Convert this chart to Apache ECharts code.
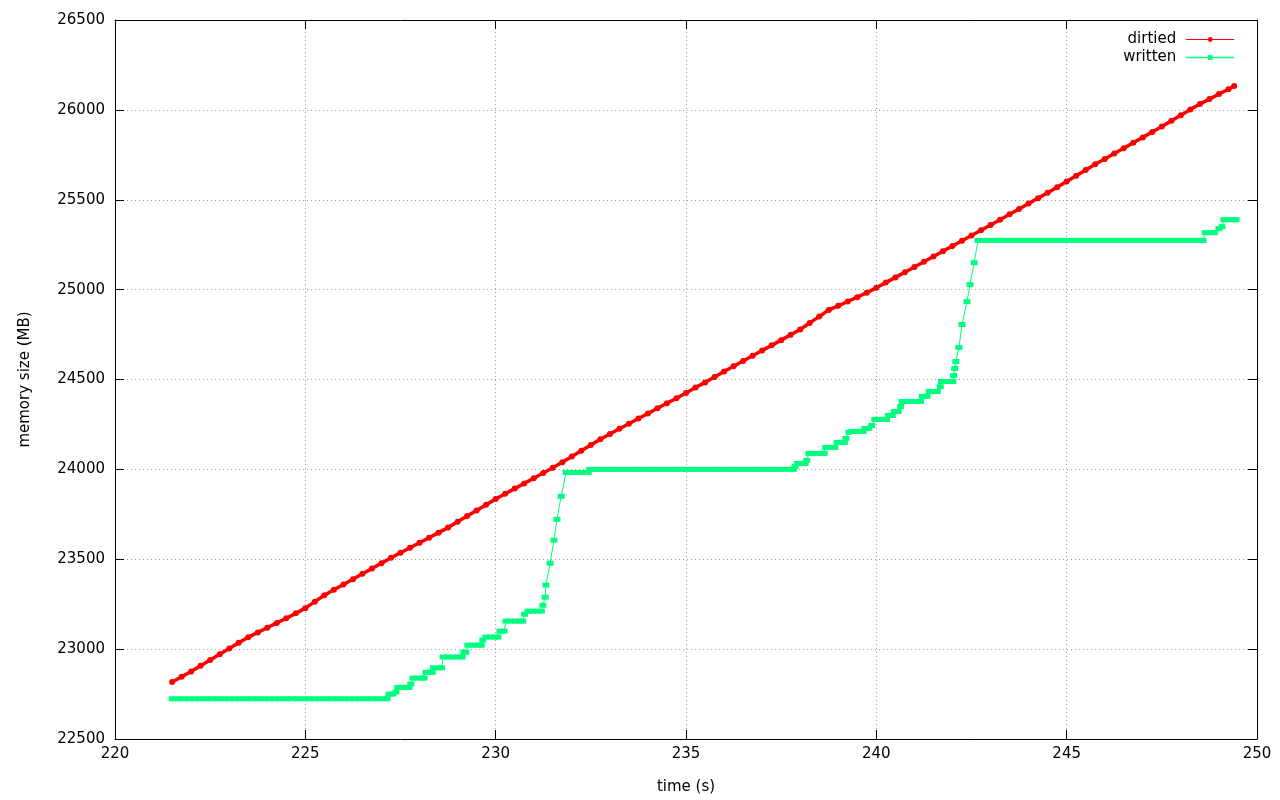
<!DOCTYPE html>
<html>
<head>
<meta charset="utf-8">
<script src="https://cdn.jsdelivr.net/npm/echarts@6/dist/echarts.min.js"></script>
<style>
html,body{margin:0;padding:0;background:#fff;}
#chart{width:1280px;height:800px;}
</style>
</head>
<body>
<div id="chart"></div>
<script>
// x-axis tick labels and y-axis tick labels
const xTicks = [220, 225, 230, 235, 240, 245, 250];
const yTicks = [22500, 23000, 23500, 24000, 24500, 25000, 25500, 26000, 26500];

// dirtied memory: [time (s), size (MB)]
const dirtied = [
[221.50,22817],[221.75,22846],[222.00,22876],[222.25,22908],[222.50,22940],[222.75,22971],
[223.00,23003],[223.25,23035],[223.50,23066],[223.75,23093],[224.00,23119],[224.25,23146],
[224.50,23172],[224.75,23199],[225.00,23228],[225.25,23264],[225.50,23300],[225.75,23330],
[226.00,23360],[226.25,23389],[226.50,23419],[226.75,23448],[227.00,23478],[227.25,23508],
[227.50,23536],[227.75,23564],[228.00,23592],[228.25,23620],[228.50,23648],[228.75,23676],
[229.00,23708],[229.25,23740],[229.50,23771],[229.75,23803],[230.00,23835],[230.25,23864],
[230.50,23893],[230.75,23922],[231.00,23951],[231.25,23980],[231.50,24009],[231.75,24040],
[232.00,24072],[232.25,24104],[232.50,24136],[232.75,24168],[233.00,24197],[233.25,24226],
[233.50,24254],[233.75,24283],[234.00,24311],[234.25,24340],[234.50,24368],[234.75,24396],
[235.00,24425],[235.25,24455],[235.50,24484],[235.75,24514],[236.00,24544],[236.25,24574],
[236.50,24603],[236.75,24632],[237.00,24661],[237.25,24690],[237.50,24719],[237.75,24749],
[238.00,24778],[238.25,24815],[238.50,24850],[238.75,24887],[239.00,24910],[239.25,24934],
[239.50,24958],[239.75,24983],[240.00,25010],[240.25,25039],[240.50,25068],[240.75,25097],
[241.00,25126],[241.25,25155],[241.50,25184],[241.75,25214],[242.00,25243],[242.25,25272],
[242.50,25301],[242.75,25330],[243.00,25360],[243.25,25389],[243.50,25419],[243.75,25449],
[244.00,25479],[244.25,25509],[244.50,25539],[244.75,25569],[245.00,25601],[245.25,25633],
[245.50,25665],[245.75,25697],[246.00,25727],[246.25,25757],[246.50,25787],[246.75,25817],
[247.00,25847],[247.25,25877],[247.50,25907],[247.75,25939],[248.00,25970],[248.25,26002],
[248.50,26033],[248.75,26060],[249.00,26088],[249.25,26115],[249.40,26133]
];

// written memory: [time (s), size (MB)]
const written = [
[221.50,22724],[221.65,22724],[221.80,22724],[221.95,22724],[222.10,22724],[222.25,22724],
[222.40,22724],[222.55,22724],[222.70,22724],[222.85,22724],[223.00,22724],[223.15,22724],
[223.30,22724],[223.45,22724],[223.60,22724],[223.75,22724],[223.90,22724],[224.05,22724],
[224.20,22724],[224.35,22724],[224.50,22724],[224.65,22724],[224.80,22724],[224.95,22724],
[225.10,22724],[225.25,22724],[225.40,22724],[225.55,22724],[225.70,22724],[225.85,22724],
[226.00,22724],[226.15,22724],[226.30,22724],[226.45,22724],[226.60,22724],[226.75,22724],
[226.90,22724],[227.05,22724],[227.15,22724],
[227.20,22750],[227.30,22750],[227.38,22761],
[227.43,22787],[227.55,22787],[227.67,22787],[227.72,22787],
[227.77,22806],
[227.83,22839],[227.95,22839],[228.07,22839],[228.12,22839],
[228.17,22871],[228.27,22871],[228.33,22871],
[228.37,22896],[228.50,22896],[228.58,22896],
[228.62,22956],[228.75,22956],[228.88,22956],[229.00,22956],[229.12,22956],
[229.16,22983],[229.22,22983],
[229.27,23022],[229.40,23022],[229.52,23022],[229.62,23022],
[229.66,23050],
[229.74,23067],[229.86,23067],[229.98,23067],[230.06,23067],
[230.11,23100],[230.22,23100],
[230.27,23156],[230.39,23156],[230.51,23156],[230.63,23156],[230.71,23156],
[230.76,23194],
[230.85,23211],[230.97,23211],[231.09,23211],[231.20,23211],
[231.24,23244],[231.30,23289],[231.32,23356],[231.43,23478],[231.53,23606],[231.61,23722],
[231.72,23850],[231.85,23983],
[231.97,23983],[232.09,23983],[232.21,23983],[232.33,23983],[232.43,23983],
[232.47,24000],[232.62,24000],[232.77,24000],[232.92,24000],[233.07,24000],[233.22,24000],
[233.37,24000],[233.52,24000],[233.67,24000],[233.82,24000],[233.97,24000],[234.12,24000],
[234.27,24000],[234.42,24000],[234.57,24000],[234.72,24000],[234.87,24000],[235.02,24000],
[235.17,24000],[235.32,24000],[235.47,24000],[235.62,24000],[235.77,24000],[235.92,24000],
[236.07,24000],[236.22,24000],[236.37,24000],[236.52,24000],[236.67,24000],[236.82,24000],
[236.97,24000],[237.12,24000],[237.27,24000],[237.42,24000],[237.57,24000],[237.72,24000],
[237.82,24000],
[237.87,24017],
[237.93,24033],[238.05,24033],[238.13,24033],
[238.17,24050],
[238.23,24089],[238.35,24089],[238.47,24089],[238.59,24089],[238.63,24089],
[238.67,24122],[238.79,24122],[238.91,24122],
[238.97,24150],[239.09,24150],[239.16,24150],
[239.20,24172],
[239.28,24206],
[239.36,24211],[239.48,24211],[239.60,24211],[239.65,24211],
[239.70,24228],[239.80,24228],
[239.88,24244],
[239.96,24278],[240.08,24278],[240.20,24278],[240.27,24278],
[240.32,24300],[240.42,24300],
[240.47,24322],[240.57,24322],
[240.64,24350],
[240.68,24378],[240.80,24378],[240.92,24378],[241.04,24378],[241.16,24378],
[241.21,24406],[241.33,24406],
[241.39,24433],[241.51,24433],[241.60,24433],
[241.68,24460],
[241.71,24489],[241.83,24489],[241.95,24489],[242.01,24489],
[242.03,24522],[242.06,24561],[242.09,24600],[242.17,24678],[242.25,24806],[242.38,24933],
[242.46,25028],[242.57,25150],[242.67,25274],
[242.79,25274],[242.94,25274],[243.09,25274],[243.24,25274],[243.39,25274],[243.54,25274],
[243.69,25274],[243.84,25274],[243.99,25274],[244.14,25274],[244.29,25274],[244.44,25274],
[244.59,25274],[244.74,25274],[244.89,25274],[245.04,25274],[245.19,25274],[245.34,25274],
[245.49,25274],[245.64,25274],[245.79,25274],[245.94,25274],[246.09,25274],[246.24,25274],
[246.39,25274],[246.54,25274],[246.69,25274],[246.84,25274],[246.99,25274],[247.14,25274],
[247.29,25274],[247.44,25274],[247.59,25274],[247.74,25274],[247.89,25274],[248.04,25274],
[248.19,25274],[248.34,25274],[248.49,25274],[248.58,25274],
[248.64,25317],[248.76,25317],[248.88,25317],
[249.00,25339],[249.08,25350],
[249.13,25389],[249.25,25389],[249.37,25389],[249.45,25389]
];

const RED = '#ff0000';
const GREEN = '#00ff7f';
const FONT = 'DejaVu Sans';
const chart = echarts.init(document.getElementById('chart'), null, {renderer: 'canvas'});

const tickStyle = {show: true, inside: true, length: 9, lineStyle: {color: '#000', width: 1}};
const gridLine = {show: true, lineStyle: {color: '#a0a0a0', width: 1, type: [1, 3]}};
const plain = v => String(v);

chart.setOption({
  animation: false,
  backgroundColor: '#fff',
  textStyle: {fontFamily: FONT},
  grid: {left: 115, right: 23, top: 20, bottom: 60, containLabel: false},
  legend: {
    data: [
      {name: 'dirtied', itemStyle: {color: RED}, lineStyle: {color: RED, width: 1}},
      {name: 'written', itemStyle: {color: GREEN}, lineStyle: {color: GREEN, width: 1.5}}
    ],
    orient: 'vertical',
    right: 40,
    top: 27,
    align: 'right',
    itemWidth: 48,
    itemHeight: 6,
    itemGap: 3,
    textStyle: {fontFamily: FONT, fontSize: 15, color: '#000', padding: [0, 5, 0, 0]}
  },
  xAxis: [{
    type: 'value',
    min: xTicks[0],
    max: xTicks[xTicks.length - 1],
    interval: 5,
    name: 'time (s)',
    nameLocation: 'middle',
    nameGap: 41,
    nameTextStyle: {fontFamily: FONT, fontSize: 15, color: '#000'},
    axisLine: {show: true, onZero: false, lineStyle: {color: '#000', width: 1}},
    axisTick: tickStyle,
    axisLabel: {fontFamily: FONT, fontSize: 15, color: '#000', margin: 8, formatter: plain},
    splitLine: gridLine
  }, {
    type: 'value',
    position: 'top',
    min: xTicks[0],
    max: xTicks[xTicks.length - 1],
    interval: 5,
    axisLine: {show: true, onZero: false, lineStyle: {color: '#000', width: 1}},
    axisTick: tickStyle,
    axisLabel: {show: false},
    splitLine: {show: false}
  }],
  yAxis: [{
    type: 'value',
    min: yTicks[0],
    max: yTicks[yTicks.length - 1],
    interval: 500,
    name: 'memory size (MB)',
    nameLocation: 'middle',
    nameGap: 82,
    nameRotate: 90,
    nameTextStyle: {fontFamily: FONT, fontSize: 15, color: '#000'},
    axisLine: {show: true, onZero: false, lineStyle: {color: '#000', width: 1}},
    axisTick: tickStyle,
    axisLabel: {fontFamily: FONT, fontSize: 15, color: '#000', margin: 10, formatter: plain},
    splitLine: gridLine
  }, {
    type: 'value',
    position: 'right',
    min: yTicks[0],
    max: yTicks[yTicks.length - 1],
    interval: 500,
    axisLine: {show: true, onZero: false, lineStyle: {color: '#000', width: 1}},
    axisTick: tickStyle,
    axisLabel: {show: false},
    splitLine: {show: false}
  }],
  series: [{
    name: 'dirtied',
    type: 'line',
    data: dirtied,
    symbol: 'circle',
    symbolSize: 6,
    showAllSymbol: true,
    color: RED,
    itemStyle: {color: RED},
    lineStyle: {color: RED, width: 3.5},
    emphasis: {disabled: true}
  }, {
    name: 'written',
    type: 'line',
    data: written,
    symbol: 'rect',
    symbolSize: [7, 5],
    showAllSymbol: true,
    color: GREEN,
    itemStyle: {color: GREEN},
    lineStyle: {color: GREEN, width: 1},
    emphasis: {disabled: true}
  }]
});
</script>
</body>
</html>
